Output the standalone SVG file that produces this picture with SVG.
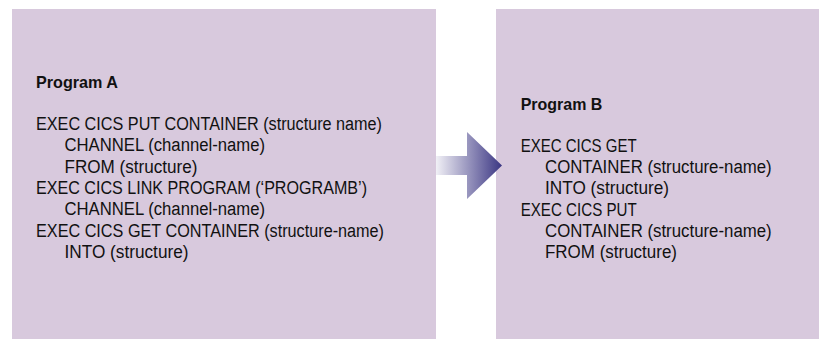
<svg xmlns="http://www.w3.org/2000/svg" width="819" height="339" viewBox="0 0 819 339">
  <style>
    .box { fill: #d8c9dd; }
    .t { font-family: "Liberation Sans", Arial, sans-serif; font-size: 18px; fill: #111; }
    .h { font-family: "Liberation Sans", Arial, sans-serif; font-size: 16.5px; font-weight: bold; fill: #111; }
  </style>
  <defs>
    <linearGradient id="arrowGrad" gradientUnits="userSpaceOnUse" x1="436" y1="0" x2="502" y2="0">
      <stop offset="0" stop-color="#f1f0f6"/>
      <stop offset="1" stop-color="#3b3683"/>
    </linearGradient>
  </defs>

  <g id="programA">
    <rect class="box" x="12" y="9" width="424" height="330"/>
    <text class="h" x="36" y="88" textLength="82" lengthAdjust="spacingAndGlyphs">Program A</text>
    <text class="t" x="36" y="130" textLength="346" lengthAdjust="spacingAndGlyphs">EXEC CICS PUT CONTAINER (structure name)</text>
    <text class="t" x="64.5" y="151.3" textLength="200.5" lengthAdjust="spacingAndGlyphs">CHANNEL (channel-name)</text>
    <text class="t" x="64.5" y="172.6" textLength="133" lengthAdjust="spacingAndGlyphs">FROM (structure)</text>
    <text class="t" x="36" y="193.9" textLength="331" lengthAdjust="spacingAndGlyphs">EXEC CICS LINK PROGRAM (‘PROGRAMB’)</text>
    <text class="t" x="64.5" y="215.2" textLength="200.5" lengthAdjust="spacingAndGlyphs">CHANNEL (channel-name)</text>
    <text class="t" x="36" y="236.5" textLength="348" lengthAdjust="spacingAndGlyphs">EXEC CICS GET CONTAINER (structure-name)</text>
    <text class="t" x="64.5" y="257.8" textLength="124" lengthAdjust="spacingAndGlyphs">INTO (structure)</text>
  </g>

  <g id="programB">
    <rect class="box" x="496" y="9" width="323" height="330"/>
    <text class="h" x="520.7" y="109.5" textLength="81.7" lengthAdjust="spacingAndGlyphs">Program B</text>
    <text class="t" x="520.7" y="152" textLength="116" lengthAdjust="spacingAndGlyphs">EXEC CICS GET</text>
    <text class="t" x="545" y="173.2" textLength="226.7" lengthAdjust="spacingAndGlyphs">CONTAINER (structure-name)</text>
    <text class="t" x="545" y="194.4" textLength="124" lengthAdjust="spacingAndGlyphs">INTO (structure)</text>
    <text class="t" x="520.7" y="215.6" textLength="116" lengthAdjust="spacingAndGlyphs">EXEC CICS PUT</text>
    <text class="t" x="545" y="236.8" textLength="226.7" lengthAdjust="spacingAndGlyphs">CONTAINER (structure-name)</text>
    <text class="t" x="545" y="258" textLength="132" lengthAdjust="spacingAndGlyphs">FROM (structure)</text>
  </g>

  <g id="connectors">
    <polygon points="436,156 467,156 467,132 502,165.5 467,199 467,175 436,175" fill="url(#arrowGrad)"/>
  </g>
</svg>
